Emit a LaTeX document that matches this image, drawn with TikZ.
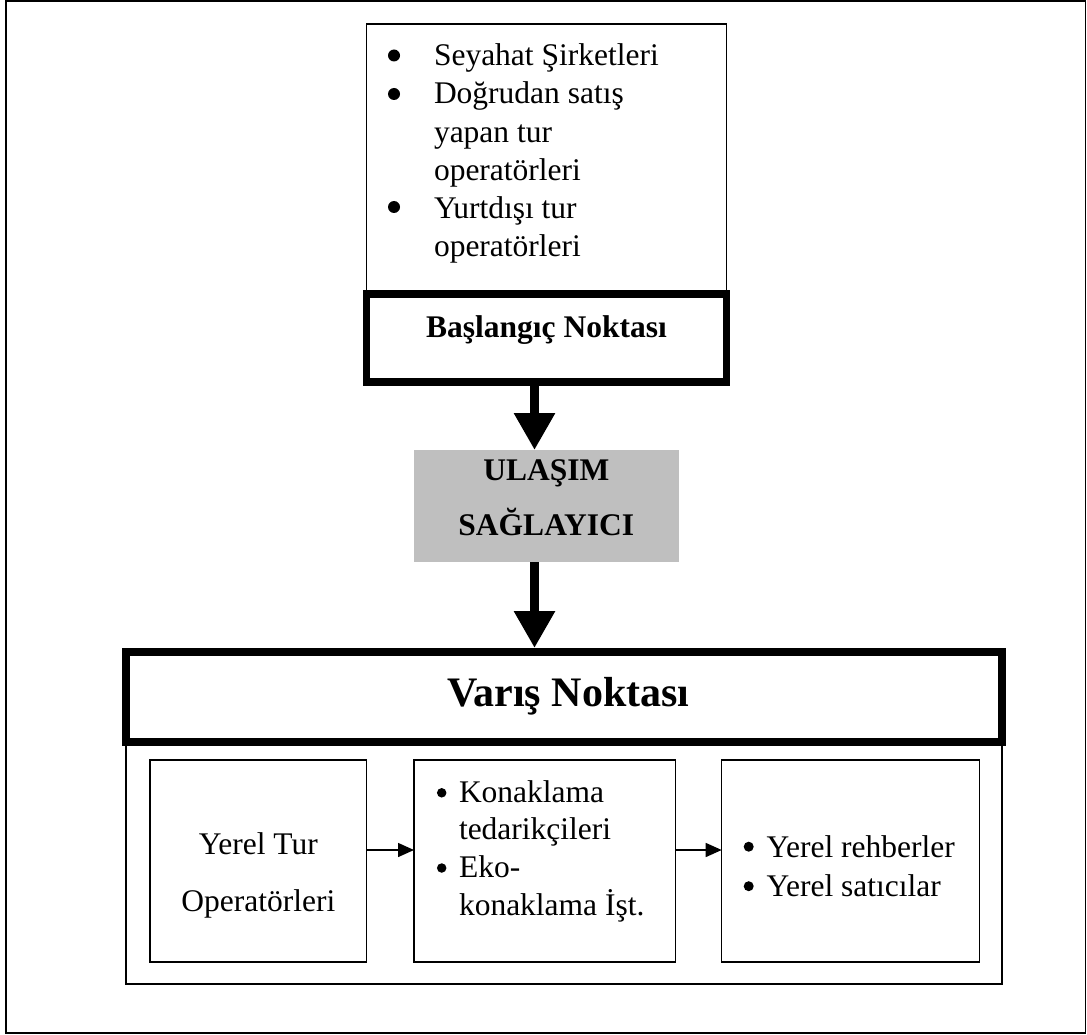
\documentclass[tikz,border=0pt]{standalone}
\usepackage{fontspec}
\setmainfont{Liberation Serif}
\usetikzlibrary{arrows.meta}
\begin{document}
\begin{tikzpicture}[x=1pt,y=-1pt,
  thinbox/.style={draw,line width=1.4pt,inner sep=0pt,outer sep=0pt},
  thickbox/.style={draw,line width=7.5pt,inner sep=0pt,outer sep=auto,fill=white},
  graybox/.style={fill=black!25,inner sep=0pt,outer sep=0pt},
  txt/.style={anchor=base west,inner sep=0pt,outer sep=0pt,font=\fontsize{31.5}{38}\selectfont},
  ctxt/.style={anchor=base,inner sep=0pt,outer sep=0pt,font=\fontsize{31.5}{38}\selectfont},
  btxt/.style={anchor=base,inner sep=0pt,outer sep=0pt,font=\fontsize{31.5}{38}\selectfont\bfseries},
  dot/.style={circle,fill=black,inner sep=0pt,minimum size=#1},
  bigarrow/.style={line width=9pt,-{Triangle[width=39pt,length=37pt]}},
  smallarrow/.style={line width=1.5pt,-{Triangle[width=14pt,length=16pt]}}]
\useasboundingbox (0,0) rectangle (1087,1035);
% outer frame
\node[thinbox,minimum width=1079.5pt,minimum height=1032pt] (frame) at (545.75,517) {};
% source box
\node[thinbox,minimum width=360pt,minimum height=270pt] (src) at (546.7,159) {};
\node[dot=12pt] (d1) at (394,55.5) {};
\node[dot=12pt] (d2) at (394,94) {};
\node[dot=12pt] (d3) at (394,207) {};
\node[txt] (s1) at (434,65.7) {Seyahat Şirketleri};
\node[txt] (s2) at (434,103.9) {Doğrudan satış};
\node[txt] (s3) at (434,142.1) {yapan tur};
\node[txt] (s4) at (434,180.3) {operatörleri};
\node[txt] (s5) at (434,218.5) {Yurtdışı tur};
\node[txt] (s6) at (434,256.7) {operatörleri};
% start box
\node[thickbox,minimum width=360pt,minimum height=88pt] (start) at (546.5,338) {};
\node[btxt] (startlbl) at (546.5,337.3) {Başlangıç Noktası};
% transport box
\node[graybox,minimum width=265pt,minimum height=112pt] (trans) at (546.5,506) {};
\node[btxt] (tr1) at (546.3,480.7) {ULAŞIM};
\node[btxt] (tr2) at (546.3,535) {SAĞLAYICI};
% destination
\node[thinbox,minimum width=876pt,minimum height=242pt] (cont) at (564,863) {};
\node[thickbox,line width=8pt,minimum width=876pt,minimum height=90pt] (dest) at (564,697) {};
\node[anchor=base,inner sep=0pt,font=\fontsize{42}{50}\selectfont\bfseries] (destlbl) at (568.3,706.7) {Varış Noktası};
% inner boxes
\node[thinbox,minimum width=216.7pt,minimum height=202pt] (b1) at (258.35,861) {};
\node[thinbox,minimum width=261.7pt,minimum height=202pt] (b2) at (544.85,861) {};
\node[thinbox,minimum width=257.6pt,minimum height=202pt] (b3) at (850.5,861) {};
\node[ctxt] (y1) at (258.3,854) {Yerel Tur};
\node[ctxt] (y2) at (258.3,911) {Operatörleri};
\node[dot=9.5pt] (e1) at (441.7,792.8) {};
\node[dot=9.5pt] (e2) at (441.7,868) {};
\node[txt] (k1) at (459,802.3) {Konaklama};
\node[txt] (k2) at (459,839.7) {tedarikçileri};
\node[txt] (k3) at (459,877.5) {Eko-};
\node[txt] (k4) at (459,915) {konaklama İşt.};
\node[dot=10pt] (f1) at (748.7,846.7) {};
\node[dot=10pt] (f2) at (748.7,886.2) {};
\node[txt] (r1) at (766.5,857.3) {Yerel rehberler};
\node[txt] (r2) at (766.5,896.7) {Yerel satıcılar};
% connectors
\coordinate (ax) at (534.5,0);
\draw[bigarrow] (ax |- start.south) -- (ax |- trans.north);
\draw[bigarrow] (ax |- trans.south) -- (ax |- dest.north);
\coordinate (ay) at (0,850);
\draw[smallarrow] (b1.east |- ay) -- (b2.west |- ay);
\draw[smallarrow] (b2.east |- ay) -- (b3.west |- ay);
\end{tikzpicture}
\end{document}
